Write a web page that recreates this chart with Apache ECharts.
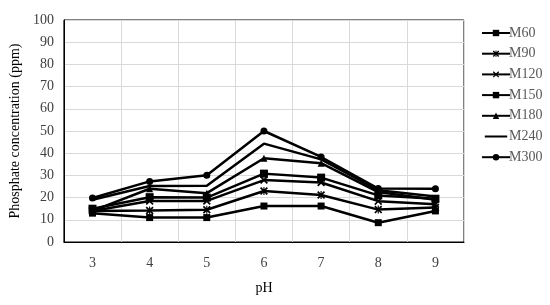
<!DOCTYPE html>
<html><head><meta charset="utf-8">
<script src="https://cdn.jsdelivr.net/npm/echarts@6/dist/echarts.min.js"></script>
<style>html,body{margin:0;padding:0;background:#fff}#c{width:550px;height:305px}</style>
</head><body><div id="c"></div>
<script>
var categories = ['3','4','5','6','7','8','9'];
var seriesNames = ['M60','M90','M120','M150','M180','M240','M300'];
var M60  = [13, 11, 11, 16.2, 16.2, 8.7, 14];
var M90  = [14, 14.2, 14.5, 23, 21.2, 14.6, 15.5];
var M120 = [14, 18.5, 18.5, 27.9, 26.8, 18.4, 17];
var M150 = [15, 20.2, 20, 30.8, 29, 21, 19.5];
var M180 = [14, 24, 22, 37.7, 35.5, 22.5, 19];
var M240 = [19, 25.2, 25.3, 44.3, 37.2, 23.3, 20.5];
var M300 = [19.8, 27.3, 30.1, 50, 38.3, 24.1, 24];
var values = [M60, M90, M120, M150, M180, M240, M300];

var xPath = 'path://M0,1.5L1.5,0L5,3.5L8.5,0L10,1.5L6.5,5L10,8.5L8.5,10L5,6.5L1.5,10L0,8.5L3.5,5Z';
var starPath = 'path://M0,1.5L1.5,0L4.3,2.8L4.3,0L5.7,0L5.7,2.8L8.5,0L10,1.5L6.5,5L10,8.5L8.5,10L5.7,7.2L5.7,10L4.3,10L4.3,7.2L1.5,10L0,8.5L3.5,5Z';
var symbols = ['rect', starPath, xPath, 'rect', 'triangle', 'none', 'circle'];
var sizes = [7, 8, 8, 8, 7, 0, 7];
var linePath = 'path://M0,0L0.01,0L0.01,0.01L0,0.01Z M0,3.6L28,3.6L28,6.4L0,6.4Z M0,9.99L0.01,9.99L0.01,10L0,10Z';

var series = seriesNames.map(function(n, i){
  return {
    name: n, type: 'line', data: values[i],
    symbol: symbols[i], symbolSize: sizes[i], showSymbol: symbols[i] !== 'none',
    lineStyle: {color: '#000', width: 2.5},
    itemStyle: {color: '#000', borderColor: '#000', borderWidth: 0},
    emphasis: {disabled: true}, animation: false
  };
});

var legendData = seriesNames.map(function(n, i){
  return symbols[i] === 'none' ? {name: n, icon: linePath} : {name: n};
});

var chart = echarts.init(document.getElementById('c'));
chart.setOption({
  animation: false,
  textStyle: {fontFamily: 'Liberation Serif'},
  grid: {left: 63, right: 86, top: 20, bottom: 63, show: true, borderColor: '#000', borderWidth: 1},
  legend: {
    orient: 'vertical', left: 476, top: 21, itemWidth: 28, itemHeight: 8, itemGap: 6.7,
    data: legendData,
    textStyle: {fontFamily: 'Liberation Serif', fontSize: 14, color: '#595959', padding: [0,0,0,-6]}
  },
  xAxis: {
    type: 'category', data: categories, boundaryGap: true,
    name: 'pH', nameLocation: 'middle', nameGap: 39,
    nameTextStyle: {fontFamily: 'Liberation Serif', fontSize: 14, color: '#000'},
    axisLine: {lineStyle: {color: '#000', width: 1}},
    axisTick: {show: false},
    axisLabel: {fontFamily: 'Liberation Serif', fontSize: 14, color: '#404040', margin: 14},
    splitLine: {show: true, lineStyle: {color: '#d9d9d9', width: 1}}
  },
  yAxis: {
    type: 'value', min: 0, max: 100, interval: 10,
    name: 'Phosphate concentration (ppm)', nameLocation: 'middle', nameGap: 39,
    nameTextStyle: {fontFamily: 'Liberation Serif', fontSize: 14, color: '#000'},
    axisLine: {show: true, lineStyle: {color: '#000', width: 1}},
    axisTick: {show: false},
    axisLabel: {fontFamily: 'Liberation Serif', fontSize: 14, color: '#404040', margin: 10},
    splitLine: {show: true, lineStyle: {color: '#d9d9d9', width: 1}}
  },
  series: series
});
</script></body></html>
